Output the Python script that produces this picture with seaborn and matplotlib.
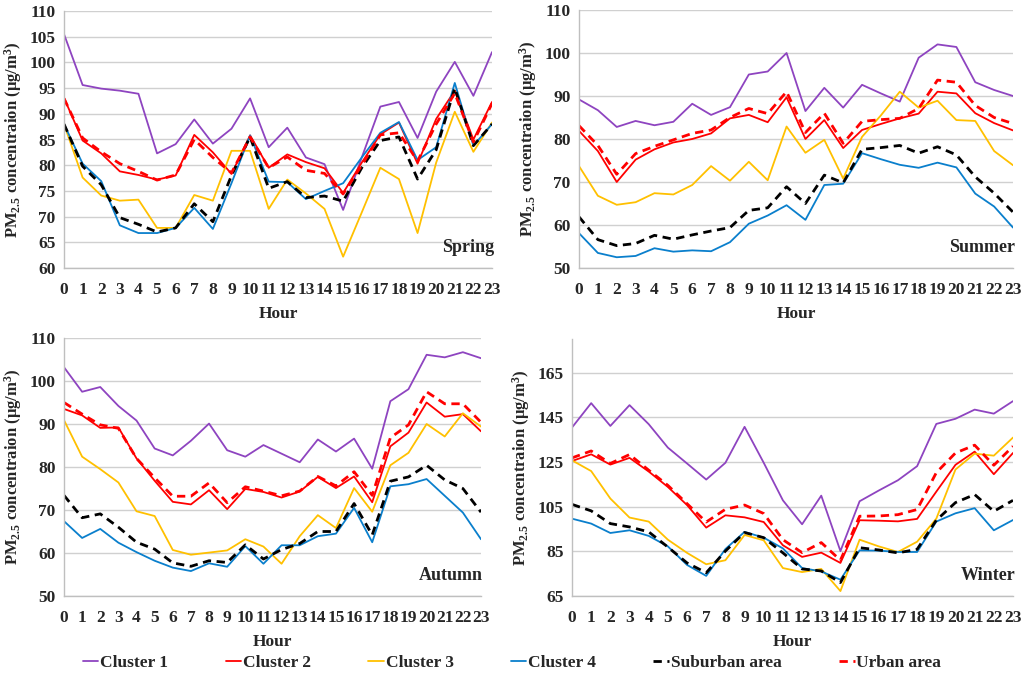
import numpy as np
import pandas as pd
import matplotlib
matplotlib.use("Agg")
import matplotlib.pyplot as plt
import seaborn as sns

hours = list(range(24))

# Spring
spring_c1 = [105.5, 95.6, 94.9, 94.5, 93.9, 82.3, 84.1, 88.9, 84.2, 87.1, 93.0, 83.5, 87.3, 81.5, 80.2, 71.3, 81.5, 91.4, 92.3, 85.3, 94.3, 100.1, 93.5, 102.0]
spring_c2 = [93.1, 84.8, 82.3, 78.8, 78.1, 77.2, 78.0, 85.9, 82.5, 78.3, 85.8, 79.5, 82.1, 80.6, 79.4, 74.6, 80.5, 86.0, 88.3, 80.3, 89.0, 94.5, 85.0, 92.3]
spring_c3 = [88.0, 77.6, 74.1, 73.1, 73.3, 67.8, 67.8, 74.2, 73.1, 82.8, 82.8, 71.5, 77.2, 74.5, 71.5, 62.2, 70.8, 79.5, 77.3, 66.8, 80.5, 90.4, 82.6, 88.3]
spring_c4 = [88.0, 80.3, 76.9, 68.3, 66.8, 66.8, 67.8, 71.7, 67.6, 76.5, 85.8, 76.8, 76.7, 73.4, 75.0, 76.5, 81.5, 86.3, 88.4, 81.0, 83.5, 96.0, 83.8, 88.0]
spring_sub = [88.0, 79.8, 76.2, 69.8, 68.5, 67.0, 67.8, 72.5, 69.0, 78.0, 85.5, 75.5, 76.8, 73.7, 74.0, 73.0, 79.5, 84.8, 85.5, 77.3, 83.0, 95.0, 83.8, 88.0]
spring_urb = [93.0, 85.3, 82.6, 80.3, 78.8, 77.1, 78.1, 85.0, 81.5, 78.5, 85.5, 79.5, 81.6, 79.0, 78.4, 74.4, 80.0, 85.9, 86.3, 80.8, 88.0, 94.0, 84.5, 92.0]

# Summer
summer_c1 = [89.2, 86.7, 82.8, 84.2, 83.2, 84.0, 88.2, 85.6, 87.4, 95.0, 95.7, 100.0, 86.5, 91.9, 87.3, 92.6, 90.6, 88.7, 98.9, 102.0, 101.4, 93.2, 91.4, 90.0]
summer_c2 = [81.9, 77.2, 70.0, 75.2, 77.6, 79.2, 80.0, 81.3, 84.8, 85.6, 83.9, 89.7, 80.0, 84.4, 77.9, 82.1, 83.5, 84.8, 85.9, 91.0, 90.6, 86.0, 83.7, 82.0]
summer_c3 = [73.7, 66.8, 64.7, 65.3, 67.4, 67.1, 69.3, 73.7, 70.3, 74.7, 70.4, 82.9, 76.8, 79.8, 70.8, 80.5, 85.5, 91.0, 87.3, 88.9, 84.4, 84.2, 77.2, 73.9]
summer_c4 = [58.1, 53.5, 52.5, 52.8, 54.6, 53.8, 54.1, 53.9, 56.0, 60.3, 62.2, 64.6, 61.2, 69.3, 69.6, 76.7, 75.3, 74.0, 73.3, 74.5, 73.4, 67.3, 64.3, 59.4]
summer_sub = [61.9, 56.6, 55.2, 55.7, 57.6, 56.7, 57.7, 58.6, 59.4, 63.4, 64.0, 68.9, 65.0, 71.6, 69.8, 77.6, 78.0, 78.5, 76.7, 78.2, 76.3, 71.2, 67.4, 63.0]
summer_urb = [83.1, 78.5, 71.8, 76.6, 78.3, 79.8, 81.3, 82.1, 85.0, 87.1, 85.9, 91.0, 81.5, 86.0, 79.0, 84.1, 84.5, 84.8, 87.1, 93.7, 93.2, 87.8, 85.0, 83.6]

# Autumn
autumn_c1 = [103.2, 97.5, 98.6, 94.2, 90.8, 84.3, 82.7, 86.1, 90.1, 83.9, 82.4, 85.1, 83.1, 81.1, 86.4, 83.6, 86.6, 79.6, 95.3, 98.1, 106.1, 105.5, 106.7, 105.3]
autumn_c2 = [93.5, 92.0, 89.1, 89.2, 82.0, 76.8, 71.9, 71.3, 74.6, 70.2, 74.9, 74.2, 72.9, 74.3, 77.7, 75.1, 77.8, 71.8, 84.8, 88.0, 95.0, 91.7, 92.3, 88.3]
autumn_c3 = [90.9, 82.4, 79.5, 76.4, 69.7, 68.6, 60.7, 59.6, 60.1, 60.6, 63.2, 61.5, 57.5, 63.9, 68.8, 65.8, 75.1, 69.6, 80.4, 83.3, 90.0, 87.1, 92.5, 89.4]
autumn_c4 = [67.4, 63.5, 65.6, 62.4, 60.2, 58.2, 56.6, 55.8, 57.6, 56.8, 61.6, 57.5, 61.8, 61.8, 63.9, 64.5, 70.5, 62.5, 75.5, 76.0, 77.2, 73.3, 69.4, 63.2]
autumn_sub = [73.4, 68.2, 69.1, 66.0, 62.5, 60.9, 57.7, 56.9, 58.2, 57.8, 61.9, 58.6, 60.8, 62.2, 65.0, 65.0, 71.5, 64.2, 76.7, 77.7, 80.4, 77.0, 75.0, 69.5]
autumn_urb = [95.0, 92.3, 89.8, 89.0, 82.0, 77.5, 73.2, 73.2, 76.3, 71.7, 75.4, 74.4, 73.3, 74.4, 77.8, 75.6, 78.9, 73.4, 86.8, 89.8, 97.5, 94.7, 94.7, 90.4]

# Winter
winter_c1 = [140.4, 151.3, 141.1, 150.4, 141.9, 131.4, 124.3, 117.1, 124.6, 140.7, 124.6, 107.8, 97.1, 109.9, 85.1, 107.4, 112.2, 116.8, 123.1, 142.0, 144.3, 148.4, 146.6, 152.2]
winter_c2 = [125.4, 128.4, 123.8, 126.8, 120.7, 113.8, 105.7, 95.6, 101.1, 100.2, 98.1, 87.7, 82.5, 84.4, 79.8, 98.9, 98.7, 98.4, 99.5, 111.7, 123.7, 129.6, 119.5, 129.0]
winter_c3 = [125.7, 120.9, 108.6, 100.1, 98.3, 90.2, 84.3, 79.2, 81.0, 92.3, 89.9, 77.5, 75.7, 77.1, 67.2, 90.2, 87.2, 84.7, 89.3, 99.6, 121.6, 128.7, 127.8, 135.9]
winter_c4 = [99.6, 97.4, 93.2, 94.4, 91.9, 87.2, 78.9, 74.0, 86.0, 93.7, 91.1, 86.3, 77.5, 76.0, 72.3, 85.4, 85.3, 84.7, 84.7, 98.3, 102.0, 104.3, 94.4, 99.0]
winter_sub = [106.0, 103.1, 97.4, 95.9, 93.7, 86.9, 79.8, 75.4, 85.1, 93.4, 91.1, 84.3, 77.1, 76.2, 71.0, 86.6, 85.6, 84.3, 85.9, 98.9, 106.8, 110.4, 102.9, 107.8]
winter_urb = [126.8, 129.9, 124.3, 128.3, 121.3, 114.5, 106.3, 98.1, 103.8, 105.7, 101.9, 90.2, 84.4, 88.9, 81.0, 100.7, 100.8, 101.4, 103.7, 120.2, 129.0, 132.5, 123.5, 132.0]

series_names = ["Cluster 1", "Cluster 2", "Cluster 3", "Cluster 4", "Suburban area", "Urban area"]
colors = ["#8E44C0", "#FF0000", "#FFC000", "#0A7FCC", "#000000", "#FF0000"]
dashed = [False, False, False, False, True, True]

seasons = {
    "Spring": [spring_c1, spring_c2, spring_c3, spring_c4, spring_sub, spring_urb],
    "Summer": [summer_c1, summer_c2, summer_c3, summer_c4, summer_sub, summer_urb],
    "Autumn": [autumn_c1, autumn_c2, autumn_c3, autumn_c4, autumn_sub, autumn_urb],
    "Winter": [winter_c1, winter_c2, winter_c3, winter_c4, winter_sub, winter_urb],
}

# axes boxes in pixels: left, top, right, bottom
boxes = {
    "Spring": (64, 11, 492, 268),
    "Summer": (579, 10, 1013, 268),
    "Autumn": (64, 338, 481, 596),
    "Winter": (572, 339, 1013, 596),
}
ylims = {"Spring": (60, 110, 5), "Summer": (50, 110, 10), "Autumn": (50, 110, 10), "Winter": (65, 180, 20)}

sns.set_theme(style="white")
plt.rcParams["font.family"] = ["Liberation Serif", "DejaVu Serif"]
plt.rcParams["font.weight"] = "bold"
plt.rcParams["mathtext.fontset"] = "custom"
plt.rcParams["mathtext.rm"] = "Liberation Serif:bold"
plt.rcParams["mathtext.bf"] = "Liberation Serif:bold"
plt.rcParams["mathtext.it"] = "Liberation Serif:bold"

W, H = 1024, 680
fig = plt.figure(figsize=(W / 100, H / 100), dpi=100)

for season, data in seasons.items():
    l, t, r, b = boxes[season]
    ax = fig.add_axes([l / W, (H - b) / H, (r - l) / W, (b - t) / H])
    for name, vals, c, d in zip(series_names, data, colors, dashed):
        df = pd.DataFrame({"Hour": hours, "PM": vals})
        if d:
            sns.lineplot(data=df, x="Hour", y="PM", ax=ax, color=c, lw=2.0,
                         label=name, dashes=False)
            ax.lines[-1].set_dashes((3, 2))
        else:
            sns.lineplot(data=df, x="Hour", y="PM", ax=ax, color=c, lw=1.3, label=name)
    lo, hi, step = ylims[season]
    ax.set_ylim(lo, hi)
    ax.set_yticks(np.arange(lo, 166 if season == "Winter" else hi + 1, step))
    ax.set_xlim(0, 23)
    ax.set_xticks(hours)
    ax.yaxis.grid(True, color="#d0d0d0", lw=1)
    ax.xaxis.grid(False)
    for s in ["top", "right"]:
        ax.spines[s].set_visible(False)
    for s in ["left", "bottom"]:
        ax.spines[s].set_color("#bfbfbf")
        ax.spines[s].set_linewidth(1)
    ax.tick_params(axis="x", length=4, color="#bfbfbf", pad=6, labelsize=12.5)
    ax.tick_params(axis="y", length=4, color="#bfbfbf", pad=2, labelsize=12.5)
    for lab in ax.get_xticklabels() + ax.get_yticklabels():
        lab.set_fontweight("bold")
    ax.set_xlabel("Hour", fontsize=12.5, fontweight="bold", labelpad=6)
    ax.set_ylabel(r"PM$_{2.5}$ concentraion (μg/m$^{3}$)", fontsize=12, fontweight="bold", labelpad=4)
    ax.text(1.005, 0.045, season, transform=ax.transAxes, ha="right", va="bottom",
            fontsize=13, fontweight="bold")
    handles, labels = ax.get_legend_handles_labels()
    ax.get_legend().remove()

fig.legend(handles, labels, loc="center", bbox_to_anchor=(0.5, (H - 663) / H), ncol=6,
           frameon=False, handlelength=0.9, handletextpad=0.1, columnspacing=3.3,
           prop={"family": "Liberation Serif", "weight": "bold", "size": 12.5})

fig.savefig("out.png", dpi=100)
